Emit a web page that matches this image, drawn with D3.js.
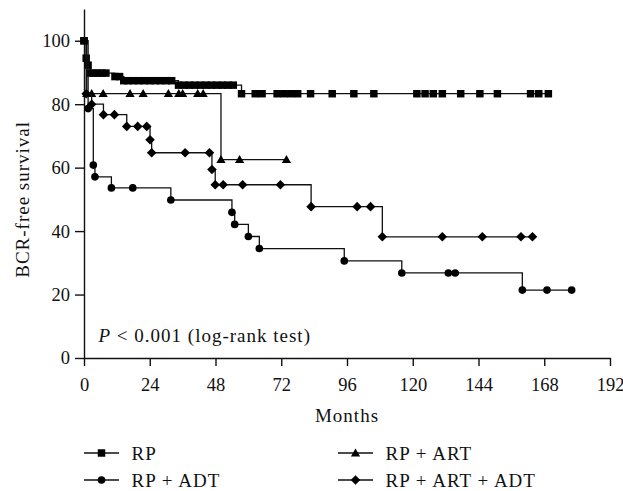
<!DOCTYPE html>
<html>
<head>
<meta charset="utf-8">
<script src="https://cdn.jsdelivr.net/npm/d3@7"></script>
<style>
  body { margin: 0; background: #fff; }
  text { font-family: "Liberation Serif", "Times New Roman", serif; fill: #111; }
</style>
</head>
<body>
<div id="chart"></div>
<script>
// data (months, survival %)
var rpMonths = [0, 0.8, 1.5, 2.2, 3.5, 5, 6.5, 8, 11.3, 13, 14.5, 16, 18, 20, 22, 24, 26, 28, 30, 32,
    34.5, 36.5, 38.5, 40.5, 42.5, 44.5, 46.5, 48.5, 50.5, 52.5, 54.5,
    57.5, 62.5, 65, 70.5, 73, 75.5, 78, 82.7, 90.6, 98.5, 105.8, 121.5, 124.5, 127.5, 130.8,
    137.5, 144.5, 150.9, 163, 166, 169.5];
var rpSurvival = [100, 94.5, 92.3, 89.8, 89.8, 89.8, 89.8, 89.8, 88.7, 88.7, 87.4, 87.4, 87.4, 87.4, 87.4, 87.4, 87.4, 87.4, 87.4, 87.4,
    86, 86, 86, 86, 86, 86, 86, 86, 86, 86, 86,
    83.3, 83.3, 83.3, 83.3, 83.3, 83.3, 83.3, 83.3, 83.3, 83.3, 83.3, 83.3, 83.3, 83.3, 83.3,
    83.3, 83.3, 83.3, 83.3, 83.3, 83.3];

var artMonths = [1, 2.8, 7, 16.8, 21.6, 30.8, 34.6, 36, 41.5, 43.5, 50, 56.8, 73.9];
var artSurvival = [83.3, 83.3, 83.3, 83.3, 83.3, 83.3, 83.3, 83.3, 83.3, 83.3, 62.5, 62.5, 62.5];

var adtMonths = [1.5, 3.4, 4, 10, 17.8, 31.7, 54, 55, 60, 64, 95, 116, 133, 135.5, 160, 169, 178];
var adtSurvival = [78.6, 60.8, 57.1, 53.6, 53.6, 49.8, 45.9, 42.1, 38.3, 34.5, 30.6, 26.8, 26.8, 26.8, 21.4, 21.4, 21.4];

var artAdtMonths = [0.8, 2.8, 7.1, 11.1, 15.6, 19.6, 22.9, 24.1, 24.7, 36.9, 45.8, 46.7, 47.9, 50.8, 57.9, 71.7,
    82.9, 99.7, 104.6, 108.9, 130.8, 145.4, 159.5, 163.7];
var artAdtSurvival = [83.3, 80, 76.7, 76.7, 73, 73, 73, 68.8, 64.7, 64.7, 64.7, 59.4, 54.6, 54.6, 54.6, 54.6,
    47.7, 47.7, 47.7, 38.2, 38.2, 38.2, 38.2, 38.2];

var legendLabels = ["RP", "RP + ART", "RP + ADT", "RP + ART + ADT"];
var xTicks = [0, 24, 48, 72, 96, 120, 144, 168, 192];
var yTicks = [0, 20, 40, 60, 80, 100];

var W = 623, H = 491;
var margin = { top: 9, right: 13, bottom: 133, left: 84 },
    width = W - margin.left - margin.right,
    height = H - margin.top - margin.bottom;

var svg = d3.select("#chart")
    .append("svg")
    .attr("width", W)
    .attr("height", H);

var x = d3.scaleLinear().domain([0, 192]).range([margin.left, margin.left + width]);
var y = d3.scaleLinear().domain([0, 110]).range([margin.top + height, margin.top]);

// symbol shapes
function markPath(kind) {
    if (kind === "square") return d3.symbol().type(d3.symbolSquare).size(56)();
    if (kind === "circle") return d3.symbol().type(d3.symbolCircle).size(46)();
    if (kind === "triangle") return "M0,-4.6L4.6,3.4L-4.6,3.4Z";
    return "M0,-4.8L4.8,0L0,4.8L-4.8,0Z";
}

var series = [
    { name: legendLabels[0], months: rpMonths, surv: rpSurvival, kind: "square" },
    { name: legendLabels[1], months: artMonths, surv: artSurvival, kind: "triangle" },
    { name: legendLabels[2], months: adtMonths, surv: adtSurvival, kind: "circle" },
    { name: legendLabels[3], months: artAdtMonths, surv: artAdtSurvival, kind: "diamond" }
];

var line = d3.line()
    .x(function(d) { return x(d[0]); })
    .y(function(d) { return y(d[1]); })
    .curve(d3.curveStepAfter);

// axes
var xAxis = svg.append("g")
    .attr("transform", "translate(0," + y(0) + ")")
    .call(d3.axisBottom(x).tickValues(xTicks).tickSize(8).tickSizeOuter(0).tickPadding(12));
var yAxis = svg.append("g")
    .attr("transform", "translate(" + x(0) + ",0)")
    .call(d3.axisLeft(y).tickValues(yTicks).tickSize(9).tickSizeOuter(0).tickPadding(5));

[xAxis, yAxis].forEach(function(a) {
    a.selectAll("path, line").attr("stroke", "#111").attr("stroke-width", 1.4);
    a.selectAll("text").attr("font-size", "18.5px").attr("fill", "#111")
        .attr("font-family", "Liberation Serif");
});

// curves and marks
series.forEach(function(s) {
    var pts = [[0, 100]].concat(s.months.map(function(m, i) { return [m, s.surv[i]]; }));
    svg.append("path")
        .datum(pts)
        .attr("fill", "none")
        .attr("stroke", "#111")
        .attr("stroke-width", 1.3)
        .attr("d", line);
    svg.selectAll(".mk-" + s.kind)
        .data(s.months.map(function(m, i) { return [m, s.surv[i]]; }))
        .enter()
        .append("path")
        .attr("class", "mk-" + s.kind)
        .attr("transform", function(d) { return "translate(" + x(d[0]) + "," + y(d[1]) + ")"; })
        .attr("d", markPath(s.kind))
        .attr("fill", "#000");
});

// the first RP point sits at 100
svg.append("path")
    .attr("transform", "translate(" + x(0) + "," + y(100) + ")")
    .attr("d", markPath("square"))
    .attr("fill", "#000");

// labels
var ts = "19px";
svg.append("text")
    .attr("transform", "translate(29," + y(50) + ") rotate(-90)")
    .attr("text-anchor", "middle")
    .attr("font-size", ts)
    .attr("letter-spacing", "1px")
    .text("BCR-free survival");

svg.append("text")
    .attr("x", (x(0) + x(192)) / 2)
    .attr("y", 422)
    .attr("text-anchor", "middle")
    .attr("font-size", ts)
    .attr("letter-spacing", "1px")
    .text("Months");

var pt = svg.append("text")
    .attr("x", 98.5)
    .attr("y", 342)
    .attr("font-size", ts)
    .attr("letter-spacing", "1px");
pt.append("tspan").attr("font-style", "italic").text("P");
pt.append("tspan").text(" < 0.001 (log-rank test)");

// legend
var legX = [84, 338], legY = [453, 480];
series.forEach(function(s, i) {
    var lx = legX[i % 2], ly = legY[Math.floor(i / 2)];
    svg.append("line")
        .attr("x1", lx).attr("x2", lx + 35)
        .attr("y1", ly).attr("y2", ly)
        .attr("stroke", "#111").attr("stroke-width", 1.3);
    svg.append("path")
        .attr("transform", "translate(" + (lx + 17.5) + "," + ly + ")")
        .attr("d", markPath(s.kind))
        .attr("fill", "#000");
    svg.append("text")
        .attr("x", lx + 47.5)
        .attr("y", ly + 6.5)
        .attr("font-size", ts)
        .attr("letter-spacing", "1px")
        .text(s.name);
});
</script>
</body>
</html>
